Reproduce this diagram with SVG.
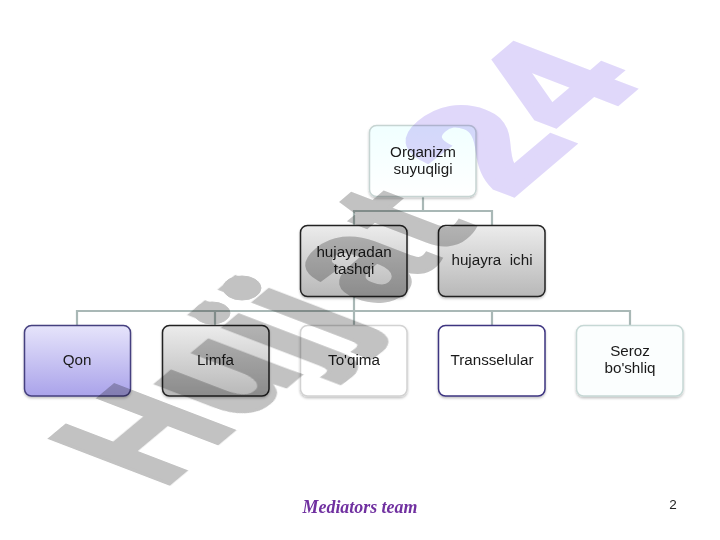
<svg xmlns="http://www.w3.org/2000/svg" width="720" height="540" viewBox="0 0 720 540">
<style>
.box{stroke-width:1.5}
.t{font-family:"Liberation Sans",Arial,sans-serif;font-size:15.2px;fill:#1a1a1a;text-anchor:middle}
.c{fill:none;stroke:#a9b8b6;stroke-width:2.2}
.wm{font-family:"Liberation Sans",Arial,sans-serif;font-weight:700;font-size:100px;stroke-width:2.5}
.g{mix-blend-mode:multiply;fill:#c2c2c2;stroke:#c2c2c2}
.p{mix-blend-mode:multiply;fill:#e0d8fa;stroke:#e0d8fa}
</style>
<defs>
<filter id="sh" x="-10%" y="-10%" width="120%" height="125%"><feDropShadow dx="0" dy="1.5" stdDeviation="1.2" flood-color="#000" flood-opacity=".25"/></filter>
<linearGradient id="cy" x1="0" y1="0" x2="0" y2="1"><stop offset="0" stop-color="#f0ffff"/><stop offset="1" stop-color="#ffffff"/></linearGradient>
<linearGradient id="gr" x1="0" y1="0" x2="0" y2="1"><stop offset="0" stop-color="#ececec"/><stop offset="1" stop-color="#b8b8b8"/></linearGradient>
<linearGradient id="pu" x1="0" y1="0" x2="0" y2="1"><stop offset="0" stop-color="#e6e4fb"/><stop offset="1" stop-color="#aaa3ea"/></linearGradient>
</defs>
<g id="connectors">
<path class="c" d="M423 197V211M354 225V211H492V225"/>
<path class="c" d="M354 297V311M77 325V311H630V325M215 311V325M354 311V325M492 311V325"/>
</g>
<g id="node-organizm"><rect class="box" x="369.500" y="125.500" width="106.500" height="71" rx="7" fill="url(#cy)" stroke="#c6d4d2" filter="url(#sh)"/><text class="t" x="423" y="157">Organizm</text><text class="t" x="423" y="174">suyuqligi</text></g>
<g id="node-hujayradan"><rect class="box" x="300.500" y="225.500" width="106.500" height="71" rx="7" fill="url(#gr)" stroke="#222" filter="url(#sh)"/><text class="t" x="354" y="257">hujayradan</text><text class="t" x="354" y="274">tashqi</text></g>
<g id="node-hujayra-ichi"><rect class="box" x="438.500" y="225.500" width="106.500" height="71" rx="7" fill="url(#gr)" stroke="#222" filter="url(#sh)"/><text class="t" x="492" y="265" xml:space="preserve">hujayra  ichi</text></g>
<g id="node-qon"><rect class="box" x="24.500" y="325.500" width="106" height="70.500" rx="7" fill="url(#pu)" stroke="#45407f" filter="url(#sh)"/><text class="t" x="77" y="365">Qon</text></g>
<g id="node-limfa"><rect class="box" x="162.500" y="325.500" width="106.500" height="70.500" rx="7" fill="url(#gr)" stroke="#222" filter="url(#sh)"/><text class="t" x="215.500" y="365">Limfa</text></g>
<g id="node-toqima"><rect class="box" x="300.500" y="325.500" width="106.500" height="70.500" rx="7" fill="#fff" stroke="#d2d2d2" filter="url(#sh)"/><text class="t" x="354" y="365">To'qima</text></g>
<g id="node-transselular"><rect class="box" x="438.500" y="325.500" width="106.500" height="70.500" rx="7" fill="#fff" stroke="#3d3480" filter="url(#sh)"/><text class="t" x="492" y="365">Transselular</text></g>
<g id="node-seroz"><rect class="box" x="576.500" y="325.500" width="106.500" height="70.500" rx="7" fill="#fbfefe" stroke="#c6d8d5" filter="url(#sh)"/><text class="t" x="630" y="356">Seroz</text><text class="t" x="630" y="373">bo'shliq</text></g>
<g id="watermark">
<g class="g">
<text class="wm" transform="matrix(1.09 -.91 1.72 .66 162 490)">Hujj</text>
<text class="wm" transform="matrix(1.09 -.91 1.72 .66 380 310)">a</text>
<text class="wm" transform="matrix(1.12 -.94 1.72 .66 440 257)">t</text>
<ellipse cx="242" cy="288" rx="19" ry="12"/>
<ellipse cx="212" cy="313" rx="18" ry="11"/>
</g>
<g class="p">
<text class="wm" style="stroke-width:5" transform="matrix(1.2 -1.02 1.72 .66 509 197)">2</text>
<text class="wm" style="stroke-width:4" transform="matrix(1.2 -1.02 1.72 .66 511 193)"><tspan dx="55.6">4</tspan></text>
</g>
</g>
<text x="360" y="513" font-family="'Liberation Serif','Times New Roman',serif" font-size="17.900" font-weight="700" font-style="italic" fill="#7030a0" text-anchor="middle">Mediators team</text>
<text x="673" y="509" font-family="'Liberation Sans',Arial,sans-serif" font-size="13.500" fill="#222" text-anchor="middle">2</text>
</svg>
